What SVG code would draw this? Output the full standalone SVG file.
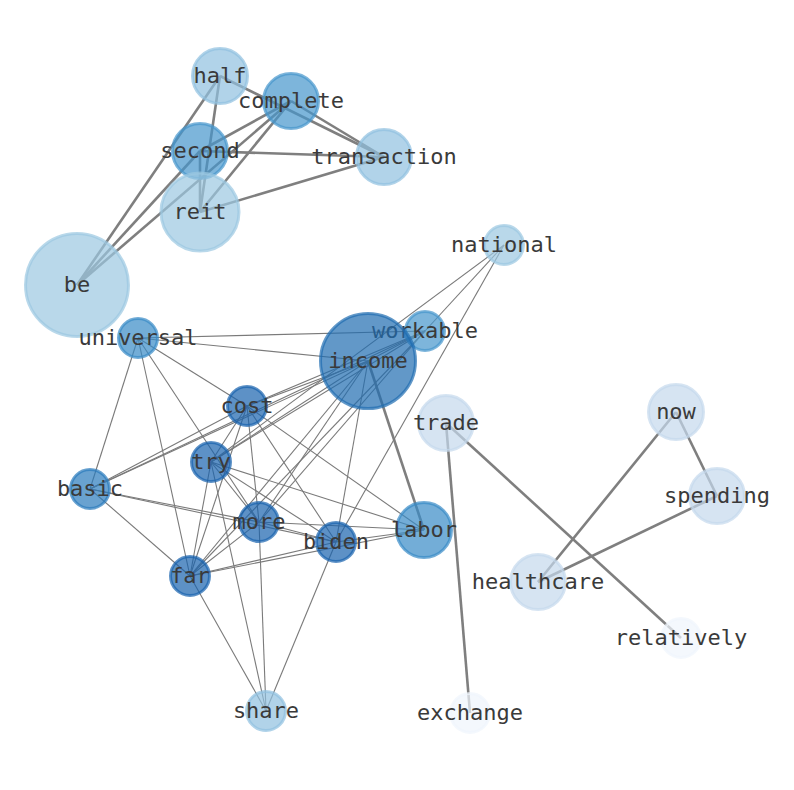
<svg xmlns="http://www.w3.org/2000/svg" width="794" height="790" viewBox="0 0 794 790">
<style>
.e{stroke:#7a7a7a;stroke-width:1.1;fill:none}
.t{stroke:#7f7f7f;stroke-width:2.6;fill:none}
circle{stroke-width:3;fill-opacity:0.7;stroke-opacity:0.7}
text{font-family:"DejaVu Sans Mono","Liberation Mono",monospace;font-size:22px;fill:#3a3a3a;text-anchor:middle}
.c1{fill:#1f6cb0;stroke:#1f6cb0}
.c2{fill:#16629e;stroke:#16629e}
.c2{fill:#1862ae;stroke:#1862ae}
.c3{fill:#297abc;stroke:#297abc}
.c4{fill:#388ac6;stroke:#388ac6}
.c5{fill:#4695cc;stroke:#4695cc}
.c6{fill:#6fb0d7;stroke:#6fb0d7}
.c7{fill:#90c0e0;stroke:#90c0e0}
.c8{fill:#9bc7e1;stroke:#9bc7e1}
.c9{fill:#c4d8ec;stroke:#c4d8ec}
.c10{fill:#eff5fc;stroke:#eff5fc}
</style>
<rect width="794" height="790" fill="#ffffff"/>
<g id="edges">
<line class="t" x1="220" y1="76" x2="384" y2="157"/>
<line class="t" x1="291" y1="101" x2="384" y2="157"/>
<line class="t" x1="220" y1="76" x2="77" y2="285"/>
<line class="t" x1="220" y1="76" x2="200" y2="212"/>
<line class="t" x1="200" y1="151" x2="200" y2="212"/>
<line class="t" x1="200" y1="151" x2="291" y2="101"/>
<line class="t" x1="200" y1="151" x2="384" y2="157"/>
<line class="t" x1="200" y1="212" x2="384" y2="157"/>
<line class="t" x1="200" y1="212" x2="291" y2="101"/>
<line class="t" x1="77" y1="285" x2="291" y2="101"/>
<line class="t" x1="77" y1="285" x2="200" y2="151"/>
<line class="t" x1="446" y1="423" x2="470" y2="713"/>
<line class="t" x1="446" y1="423" x2="681" y2="638"/>
<line class="t" x1="676" y1="412" x2="538" y2="582"/>
<line class="t" x1="676" y1="412" x2="717" y2="496"/>
<line class="t" x1="717" y1="496" x2="538" y2="582"/>
<line class="t" x1="368" y1="361" x2="424" y2="530"/>
<line class="e" x1="504" y1="245" x2="425" y2="331"/>
<line class="e" x1="504" y1="245" x2="211" y2="462"/>
<line class="e" x1="504" y1="245" x2="336" y2="542"/>
<line class="e" x1="138" y1="338" x2="425" y2="331"/>
<line class="e" x1="138" y1="338" x2="368" y2="361"/>
<line class="e" x1="138" y1="338" x2="247" y2="406"/>
<line class="e" x1="138" y1="338" x2="259" y2="522"/>
<line class="e" x1="138" y1="338" x2="90" y2="489"/>
<line class="e" x1="138" y1="338" x2="190" y2="576"/>
<line class="e" x1="425" y1="331" x2="247" y2="406"/>
<line class="e" x1="425" y1="331" x2="90" y2="489"/>
<line class="e" x1="425" y1="331" x2="211" y2="462"/>
<line class="e" x1="425" y1="331" x2="259" y2="522"/>
<line class="e" x1="425" y1="331" x2="190" y2="576"/>
<line class="e" x1="425" y1="331" x2="368" y2="361"/>
<line class="e" x1="368" y1="361" x2="247" y2="406"/>
<line class="e" x1="368" y1="361" x2="90" y2="489"/>
<line class="e" x1="368" y1="361" x2="211" y2="462"/>
<line class="e" x1="368" y1="361" x2="259" y2="522"/>
<line class="e" x1="368" y1="361" x2="336" y2="542"/>
<line class="e" x1="368" y1="361" x2="190" y2="576"/>
<line class="e" x1="247" y1="406" x2="211" y2="462"/>
<line class="e" x1="247" y1="406" x2="90" y2="489"/>
<line class="e" x1="247" y1="406" x2="259" y2="522"/>
<line class="e" x1="247" y1="406" x2="336" y2="542"/>
<line class="e" x1="247" y1="406" x2="424" y2="530"/>
<line class="e" x1="247" y1="406" x2="190" y2="576"/>
<line class="e" x1="211" y1="462" x2="259" y2="522"/>
<line class="e" x1="211" y1="462" x2="336" y2="542"/>
<line class="e" x1="211" y1="462" x2="424" y2="530"/>
<line class="e" x1="211" y1="462" x2="190" y2="576"/>
<line class="e" x1="211" y1="462" x2="266" y2="711"/>
<line class="e" x1="90" y1="489" x2="259" y2="522"/>
<line class="e" x1="90" y1="489" x2="336" y2="542"/>
<line class="e" x1="90" y1="489" x2="190" y2="576"/>
<line class="e" x1="259" y1="522" x2="336" y2="542"/>
<line class="e" x1="259" y1="522" x2="424" y2="530"/>
<line class="e" x1="259" y1="522" x2="190" y2="576"/>
<line class="e" x1="259" y1="522" x2="266" y2="711"/>
<line class="e" x1="336" y1="542" x2="424" y2="530"/>
<line class="e" x1="336" y1="542" x2="190" y2="576"/>
<line class="e" x1="336" y1="542" x2="266" y2="711"/>
<line class="e" x1="190" y1="576" x2="424" y2="530"/>
<line class="e" x1="190" y1="576" x2="266" y2="711"/>
</g>
<g id="half"><circle class="c7" cx="220" cy="76" r="27.5"/><text x="220" y="83">half</text></g>
<g id="complete"><circle class="c5" cx="291" cy="101" r="27.5"/><text x="291" y="108">complete</text></g>
<g id="second"><circle class="c5" cx="200" cy="151" r="27.5"/><text x="200" y="158">second</text></g>
<g id="transaction"><circle class="c7" cx="384" cy="157" r="27.5"/><text x="384" y="164">transaction</text></g>
<g id="reit"><circle class="c8" cx="200" cy="212" r="39"/><text x="200" y="219">reit</text></g>
<g id="be"><circle class="c8" cx="77" cy="285" r="51.5"/><text x="77" y="292">be</text></g>
<g id="national"><circle class="c8" cx="504" cy="245" r="19.5"/><text x="504" y="252">national</text></g>
<g id="universal"><circle class="c4" cx="138" cy="338" r="19.5"/><text x="138" y="345">universal</text></g>
<g id="workable"><circle class="c5" cx="425" cy="331" r="19.5"/><text x="425" y="338">workable</text></g>
<g id="income"><circle class="c1" cx="368" cy="361" r="47.5"/><text x="368" y="368">income</text></g>
<g id="cost"><circle class="c2" cx="247" cy="406" r="19.5"/><text x="247" y="413">cost</text></g>
<g id="trade"><circle class="c9" cx="446" cy="423" r="27.5"/><text x="446" y="430">trade</text></g>
<g id="now"><circle class="c9" cx="676" cy="412" r="27.5"/><text x="676" y="419">now</text></g>
<g id="try"><circle class="c2" cx="211" cy="462" r="19.5"/><text x="211" y="469">try</text></g>
<g id="basic"><circle class="c3" cx="90" cy="489" r="19.5"/><text x="90" y="496">basic</text></g>
<g id="spending"><circle class="c9" cx="717" cy="496" r="27.5"/><text x="717" y="503">spending</text></g>
<g id="more"><circle class="c2" cx="259" cy="522" r="19.5"/><text x="259" y="529">more</text></g>
<g id="biden"><circle class="c2" cx="336" cy="542" r="19.5"/><text x="336" y="549">biden</text></g>
<g id="labor"><circle class="c4" cx="424" cy="530" r="27.5"/><text x="424" y="537">labor</text></g>
<g id="far"><circle class="c2" cx="190" cy="576" r="19.5"/><text x="190" y="583">far</text></g>
<g id="healthcare"><circle class="c9" cx="538" cy="582" r="27.5"/><text x="538" y="589">healthcare</text></g>
<g id="relatively"><circle class="c10" cx="681" cy="638" r="19.5"/><text x="681" y="645">relatively</text></g>
<g id="share"><circle class="c7" cx="266" cy="711" r="19.5"/><text x="266" y="718">share</text></g>
<g id="exchange"><circle class="c10" cx="470" cy="713" r="19.5"/><text x="470" y="720">exchange</text></g>
</svg>
